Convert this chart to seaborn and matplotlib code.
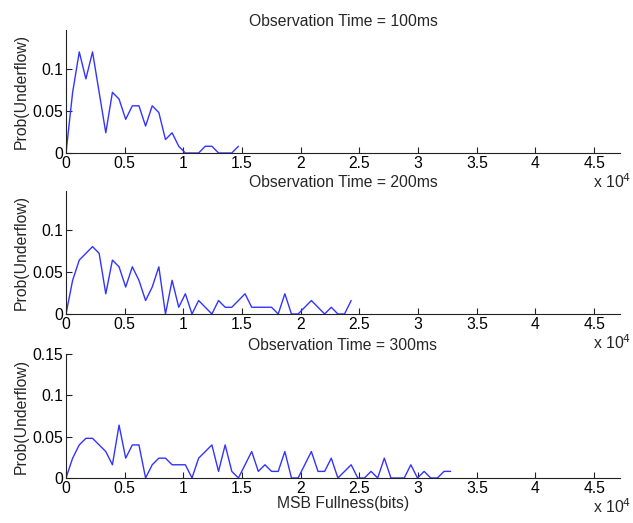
import numpy as np
import pandas as pd
import matplotlib
matplotlib.use("Agg")
import matplotlib.pyplot as plt
import seaborn as sns

# ---- data ----
bin_width = 565  # bits per step
titles = ["Observation Time = 100ms", "Observation Time = 200ms", "Observation Time = 300ms"]
p100 = [0, 0.072, 0.12, 0.088, 0.12, 0.072, 0.024, 0.072, 0.064, 0.040,
        0.056, 0.056, 0.032, 0.056, 0.048, 0.016, 0.024, 0.008, 0, 0,
        0, 0.008, 0.008, 0, 0, 0, 0.008]
p200 = [0, 0.040, 0.064, 0.072, 0.080, 0.072, 0.024, 0.064, 0.056, 0.032,
        0.056, 0.040, 0.016, 0.032, 0.056, 0, 0.040, 0.008, 0.024, 0,
        0.016, 0.008, 0, 0.016, 0.008, 0.008, 0.016, 0.024, 0.008, 0.008,
        0.008, 0.008, 0, 0.024, 0, 0, 0.008, 0.016, 0.008, 0,
        0.008, 0, 0, 0.016]
p300 = [0, 0.024, 0.040, 0.048, 0.048, 0.040, 0.032, 0.016, 0.064, 0.024,
        0.040, 0.040, 0, 0.016, 0.024, 0.024, 0.016, 0.016, 0.016, 0,
        0.024, 0.032, 0.040, 0.008, 0.040, 0.008, 0, 0.016, 0.032, 0.008,
        0.016, 0.008, 0.008, 0.032, 0, 0, 0.016, 0.032, 0.008, 0.008,
        0.024, 0, 0.008, 0.016, 0, 0, 0.008, 0, 0.024, 0,
        0, 0, 0.016, 0, 0.008, 0, 0, 0.008, 0.008]
series = [p100, p200, p300]
ylims = [0.146, 0.146, 0.15]
yticks = [[0, 0.05, 0.1], [0, 0.05, 0.1], [0, 0.05, 0.1, 0.15]]
ytick_labels = [["0", "0.05", "0.1"], ["0", "0.05", "0.1"], ["0", "0.05", "0.1", "0.15"]]
xticks = [0, 5000, 10000, 15000, 20000, 25000, 30000, 35000, 40000, 45000]
xtick_labels = ["0", "0.5", "1", "1.5", "2", "2.5", "3", "3.5", "4", "4.5"]

sns.set_style("ticks")
plt.rcParams['font.family'] = ['Liberation Sans', 'DejaVu Sans']
plt.rcParams['xtick.direction'] = 'in'
plt.rcParams['ytick.direction'] = 'in'

W, H = 633, 523
fig = plt.figure(figsize=(W / 100, H / 100), dpi=100)
axes_px = [(30, 153), (191, 314), (354, 478)]
left_px, right_px = 66, 620
fs = 11.3
axcol = '#222222'

for k, (top, bot) in enumerate(axes_px):
    ax = fig.add_axes([left_px / W, 1 - bot / H, (right_px - left_px) / W, (bot - top) / H])
    vals = series[k]
    df = pd.DataFrame({"x": np.arange(len(vals)) * bin_width, "y": vals})
    sns.lineplot(data=df, x="x", y="y", ax=ax, color=(0.2, 0.2, 1.0), linewidth=1.0)
    ax.set_xlim(0, 47200)
    ax.set_ylim(0, ylims[k])
    ax.set_xticks(xticks)
    ax.set_xticklabels(xtick_labels)
    ax.set_yticks(yticks[k])
    ax.set_yticklabels(ytick_labels[k])
    ax.tick_params(labelsize=fs, length=4, width=0.8, color=axcol, labelcolor='black', pad=2)
    for s in ['top', 'right']:
        ax.spines[s].set_visible(False)
    for s in ['left', 'bottom']:
        ax.spines[s].set_color(axcol)
        ax.spines[s].set_linewidth(0.8)
    ax.set_title(titles[k], fontsize=fs, pad=3)
    ax.set_ylabel("Prob(Underflow)", fontsize=fs, labelpad=3)
    ax.set_xlabel("MSB Fullness(bits)" if k == 2 else "", fontsize=fs, labelpad=0)
    fig.text(631 / W, 1 - (bot + 29) / H, r"x 10$^{4}$", ha='right', va='center', fontsize=fs)

fig.savefig("out.png", dpi=100)
